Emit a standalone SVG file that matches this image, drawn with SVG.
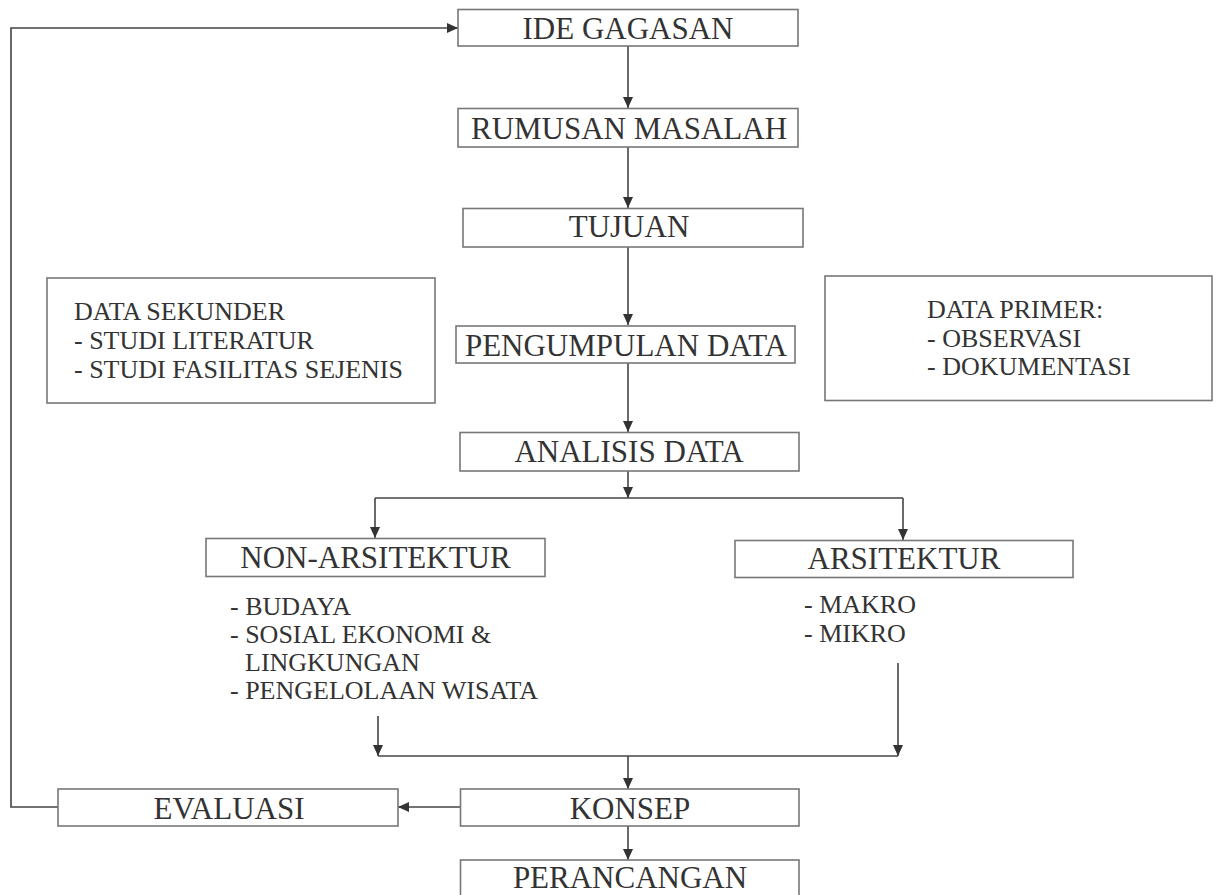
<svg xmlns="http://www.w3.org/2000/svg" width="1219" height="895" viewBox="0 0 1219 895">
<defs>
<marker id="ah" markerWidth="12" markerHeight="10" refX="11" refY="5" orient="auto" markerUnits="userSpaceOnUse">
<path d="M0,0 L11,5 L0,10 z" fill="#333"/>
</marker>
<style>
.box{fill:#fff;stroke:#777;stroke-width:1.6}
.hd{font-family:"Liberation Serif","Times New Roman",serif;font-size:31px;fill:#333;text-anchor:middle}
.sm{font-family:"Liberation Serif","Times New Roman",serif;font-size:26px;fill:#333}
.ln{fill:none;stroke:#444;stroke-width:1.6}
.ar{fill:none;stroke:#444;stroke-width:1.6;marker-end:url(#ah)}
</style>
</defs>
<rect width="1219" height="895" fill="#fff"/>
<g id="connectors">
<line class="ar" x1="628" y1="46" x2="628" y2="108"/>
<line class="ar" x1="628" y1="147" x2="628" y2="208"/>
<line class="ar" x1="628" y1="247" x2="628" y2="325"/>
<line class="ar" x1="628" y1="363" x2="628" y2="432"/>
<line class="ar" x1="628" y1="471" x2="628" y2="498"/>
<line class="ln" x1="375" y1="498" x2="903" y2="498"/>
<line class="ar" x1="375" y1="498" x2="375" y2="538"/>
<line class="ar" x1="903" y1="498" x2="903" y2="540"/>
<line class="ar" x1="378" y1="716" x2="378" y2="756"/>
<line class="ar" x1="898" y1="663" x2="898" y2="756"/>
<line class="ln" x1="378" y1="756" x2="898" y2="756"/>
<line class="ar" x1="628" y1="756" x2="628" y2="789"/>
<line class="ar" x1="460" y1="807" x2="398" y2="807"/>
<polyline class="ar" points="58,807 11,807 11,28 458,28"/>
<line class="ar" x1="628" y1="826" x2="628" y2="860"/>
</g>
<g id="ide-gagasan">
<rect class="box" x="458" y="9.5" width="340" height="36.5"/>
<text class="hd" x="628" y="38.5">IDE GAGASAN</text>
</g>
<g id="rumusan-masalah">
<rect class="box" x="458" y="108.5" width="340" height="38.5"/>
<text class="hd" x="629" y="139">RUMUSAN MASALAH</text>
</g>
<g id="tujuan">
<rect class="box" x="463" y="208.5" width="340" height="38.5"/>
<text class="hd" x="629" y="237">TUJUAN</text>
</g>
<g id="pengumpulan-data">
<rect class="box" x="456" y="326" width="339" height="37"/>
<text class="hd" x="626" y="355.5">PENGUMPULAN DATA</text>
</g>
<g id="data-sekunder">
<rect class="box" x="47" y="278" width="388" height="125"/>
<text class="sm" x="74" y="320">DATA SEKUNDER</text>
<text class="sm" x="74" y="349">- STUDI LITERATUR</text>
<text class="sm" x="74" y="378">- STUDI FASILITAS SEJENIS</text>
</g>
<g id="data-primer">
<rect class="box" x="825" y="276" width="387" height="124.5"/>
<text class="sm" x="927" y="318">DATA PRIMER:</text>
<text class="sm" x="927" y="347">- OBSERVASI</text>
<text class="sm" x="927" y="375">- DOKUMENTASI</text>
</g>
<g id="analisis-data">
<rect class="box" x="460" y="432.5" width="339" height="38.5"/>
<text class="hd" x="629" y="462">ANALISIS DATA</text>
</g>
<g id="non-arsitektur">
<rect class="box" x="206" y="538.5" width="339" height="38"/>
<text class="hd" x="375.5" y="568">NON-ARSITEKTUR</text>
<text class="sm" x="230" y="615">- BUDAYA</text>
<text class="sm" x="230" y="643">- SOSIAL EKONOMI &amp;</text>
<text class="sm" x="245" y="671">LINGKUNGAN</text>
<text class="sm" x="230" y="699">- PENGELOLAAN WISATA</text>
</g>
<g id="arsitektur">
<rect class="box" x="735" y="540.5" width="338" height="37"/>
<text class="hd" x="904" y="568.5">ARSITEKTUR</text>
<text class="sm" x="804" y="613">- MAKRO</text>
<text class="sm" x="804" y="642">- MIKRO</text>
</g>
<g id="evaluasi">
<rect class="box" x="58" y="789" width="340" height="37"/>
<text class="hd" x="229" y="819">EVALUASI</text>
</g>
<g id="konsep">
<rect class="box" x="460.5" y="789" width="338.5" height="37"/>
<text class="hd" x="630" y="819">KONSEP</text>
</g>
<g id="perancangan">
<rect class="box" x="460.5" y="860" width="338.5" height="40"/>
<text class="hd" x="630" y="888">PERANCANGAN</text>
</g>
</svg>
